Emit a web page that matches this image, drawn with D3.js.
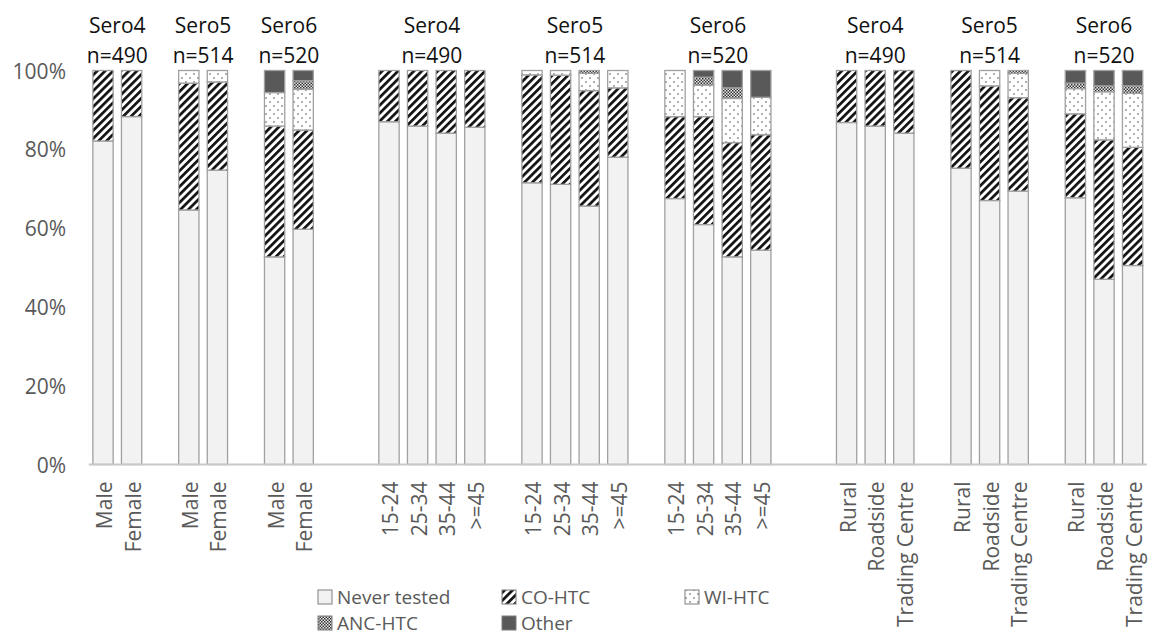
<!DOCTYPE html>
<html>
<head>
<meta charset="utf-8">
<script src="https://cdn.jsdelivr.net/npm/d3@7"></script>
<style>
  html, body { margin: 0; padding: 0; background: #fff; }
  svg { display: block; font-family: "Open Sans", sans-serif; }
</style>
</head>
<body>
<svg id="chart" width="1162" height="636"></svg>
<script>
// ---- data ----
const categories = [
  "Male","Female","","Male","Female","","Male","Female","","",
  "15-24","25-34","35-44",">=45","",
  "15-24","25-34","35-44",">=45","",
  "15-24","25-34","35-44",">=45","","",
  "Rural","Roadside","Trading Centre","",
  "Rural","Roadside","Trading Centre","",
  "Rural","Roadside","Trading Centre"
];
const seriesNames = ["Never tested","CO-HTC","WI-HTC","ANC-HTC","Other"];
const neverTested = [82.1,88.3,null,64.6,74.7,null,52.7,59.7,null,null,
  87.0,85.9,84.1,85.6,null, 71.5,71.1,65.6,78.0,null, 67.5,60.9,52.7,54.4,null,null,
  86.8,85.9,84.1,null, 75.2,67.0,69.4,null, 67.7,47.0,50.5];
const coHTC = [17.9,11.7,null,32.2,22.4,null,33.2,25.2,null,null,
  13.0,14.1,15.9,14.4,null, 27.4,27.7,29.3,17.6,null, 20.8,27.4,29.0,29.3,null,null,
  13.2,14.1,15.9,null, 24.8,29.1,23.7,null, 21.3,35.4,30.0];
const wiHTC = [0,0,null,3.2,2.9,null,8.5,10.3,null,null,
  0,0,0,0,null, 1.1,1.2,4.4,4.4,null, 11.7,8.0,11.2,9.5,null,null,
  0,0,0,null, 0,3.9,6.2,null, 6.4,12.2,13.7];
const ancHTC = [0,0,null,0,0,null,0,2.2,null,null,
  0,0,0,0,null, 0,0,0.7,0,null, 0,2.0,2.7,0,null,null,
  0,0,0,null, 0,0,0.7,null, 1.4,1.5,1.9];
const other = [0,0,null,0,0,null,5.6,2.6,null,null,
  0,0,0,0,null, 0,0,0,0,null, 0,1.7,4.4,6.8,null,null,
  0,0,0,null, 0,0,0,null, 3.2,3.9,3.9];
const yTicks = [0,20,40,60,80,100];
const headerNames = ["Sero4","Sero5","Sero6","Sero4","Sero5","Sero6","Sero4","Sero5","Sero6"];
const headerN = ["n=490","n=514","n=520","n=490","n=514","n=520","n=490","n=514","n=520"];
// first and last category index of each header group
const headerFirst = [0,3,6,10,15,20,26,30,34];
const headerLast  = [1,4,7,13,18,23,28,32,36];

// ---- layout ----
const svg = d3.select("#chart");
const plotL = 88.7, plotR = 1146.9, plotT = 70.5, plotB = 464.5;
const x = d3.scaleBand().domain(d3.range(categories.length))
  .range([plotL, plotR]).paddingInner(0.29).paddingOuter(0.145);
const y = d3.scaleLinear().domain([0, 100]).range([plotB, plotT]);

// ---- patterns ----
const defs = svg.append("defs");
const pStripe = defs.append("pattern").attr("id","pStripe")
  .attr("patternUnits","userSpaceOnUse").attr("width",5.6).attr("height",5.6)
  .attr("patternTransform","rotate(45)");
pStripe.append("rect").attr("width",5.6).attr("height",5.6).attr("fill","#fff");
pStripe.append("rect").attr("width",2.7).attr("height",5.6).attr("fill","#111");

const pDots = defs.append("pattern").attr("id","pDots")
  .attr("patternUnits","userSpaceOnUse").attr("width",8).attr("height",8);
pDots.append("rect").attr("width",8).attr("height",8).attr("fill","#fff");
pDots.append("circle").attr("cx",2).attr("cy",2).attr("r",0.9).attr("fill","#8a8a8a");
pDots.append("circle").attr("cx",6).attr("cy",6).attr("r",0.9).attr("fill","#8a8a8a");

const pChk = defs.append("pattern").attr("id","pChk")
  .attr("patternUnits","userSpaceOnUse").attr("width",3).attr("height",3);
pChk.append("rect").attr("width",3).attr("height",3).attr("fill","#e8e8e8");
pChk.append("rect").attr("width",1.5).attr("height",1.5).attr("fill","#333");
pChk.append("rect").attr("x",1.5).attr("y",1.5).attr("width",1.5).attr("height",1.5).attr("fill","#333");

const fills = ["#f2f2f2","url(#pStripe)","url(#pDots)","url(#pChk)","#595959"];
const seriesData = [neverTested, coHTC, wiHTC, ancHTC, other];

// ---- stacked bars ----
const rows = categories.map((c, i) => {
  const r = { idx: i };
  seriesNames.forEach((s, k) => r[s] = seriesData[k][i] == null ? 0 : seriesData[k][i]);
  return r;
}).filter(r => categories[r.idx] !== "");
const stack = d3.stack().keys(seriesNames)(rows);

stack.forEach((layer, k) => {
  svg.append("g").selectAll("rect").data(layer.filter(d => d[1] - d[0] > 0))
    .join("rect")
    .attr("x", d => x(d.data.idx))
    .attr("width", x.bandwidth())
    .attr("y", d => y(d[1]))
    .attr("height", d => y(d[0]) - y(d[1]))
    .attr("fill", fills[k])
    .attr("stroke", "#a0a0a0")
    .attr("stroke-width", 1.3);
});

// ---- x axis ----
svg.append("line").attr("x1", plotL).attr("x2", plotR)
  .attr("y1", plotB).attr("y2", plotB)
  .attr("stroke", "#c8c8c8").attr("stroke-width", 2);

svg.append("g").selectAll("text")
  .data(categories.map((c, i) => ({ c, i })).filter(d => d.c !== ""))
  .join("text")
  .attr("transform", d => `translate(${x(d.i) + x.bandwidth() / 2 + 1},${plotB + 17}) rotate(-90)`)
  .attr("text-anchor", "end")
  .attr("dominant-baseline", "central")
  .attr("font-size", 21)
  .attr("fill", "#595959")
  .text(d => d.c);

// ---- y axis labels ----
svg.append("g").selectAll("text").data(yTicks).join("text")
  .attr("x", 66).attr("y", d => y(d))
  .attr("text-anchor", "end").attr("dominant-baseline", "central")
  .attr("font-size", 21).attr("fill", "#595959")
  .text(d => d + "%");

// ---- group headers ----
const hdr = svg.append("g");
headerNames.forEach((h, i) => {
  const cx = (x(headerFirst[i]) + x(headerLast[i]) + x.bandwidth()) / 2;
  hdr.append("text").attr("x", cx).attr("y", 33).attr("text-anchor", "middle")
    .attr("font-size", 21).attr("fill", "#111").text(h);
  hdr.append("text").attr("x", cx).attr("y", 63).attr("text-anchor", "middle")
    .attr("font-size", 21).attr("fill", "#111").text(headerN[i]);
});

// ---- legend ----
const legendPos = [[318,597],[502,597],[685,597],[318,623],[502,623]];
const lg = svg.append("g");
seriesNames.forEach((s, k) => {
  const [lx, ly] = legendPos[k];
  lg.append("rect").attr("x", lx).attr("y", ly - 7).attr("width", 14).attr("height", 14)
    .attr("fill", fills[k]).attr("stroke", "#7f7f7f").attr("stroke-width", 1);
  lg.append("text").attr("x", lx + 19).attr("y", ly).attr("dominant-baseline", "central")
    .attr("font-size", 19).attr("fill", "#595959").text(s);
});
</script>
</body>
</html>
